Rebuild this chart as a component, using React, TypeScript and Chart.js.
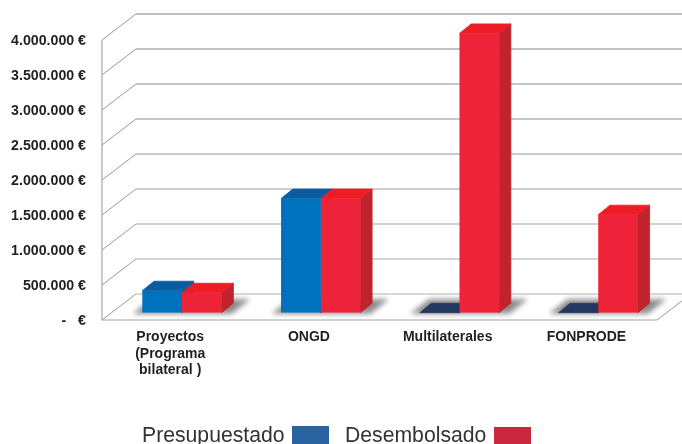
import React, { useEffect, useRef } from "react";
import { Chart, registerables } from "chart.js";

Chart.register(...registerables);

const categories = [["Proyectos", "(Programa", "bilateral )"], "ONGD", "Multilaterales", "FONPRODE"];
const presupuestado = [314000, 1630000, 0, 0];
const desembolsado = [285000, 1630000, 3990000, 1400000];
const yMax = 4000000;
const yStep = 500000;
const seriesNames = ["Presupuestado", "Desembolsado"];

const WALL_DX = 34, WALL_DY = -26;
const BAR_DX = 10.6, BAR_DY = -7.3;
const EXT_DX = 11.7, EXT_DY = -9.5;

const faces = [
  { front: "#0071bc", top: "#0b5c9e", side: "#0b5c9e", zero: "#24375f" },
  { front: "#ee2239", top: "#ee1c25", side: "#c1232c", zero: "#24375f" },
];

function formatTick(v: number) {
  if (v === 0) return "-   €";
  return String(v).replace(/\B(?=(\d{3})+(?!\d))/g, ".") + " €";
}

function poly(ctx: CanvasRenderingContext2D, pts: number[][], color: string) {
  ctx.beginPath();
  pts.forEach((p, i) => (i ? ctx.lineTo(p[0], p[1]) : ctx.moveTo(p[0], p[1])));
  ctx.closePath();
  ctx.fillStyle = color;
  ctx.strokeStyle = color;
  ctx.lineWidth = 0.8;
  ctx.lineJoin = "round";
  ctx.fill();
  ctx.stroke();
}

const scene = {
  id: "scene3d",
  beforeDatasetsDraw(chart: any) {
    const { ctx, scales } = chart;
    const y = scales.y, x = scales.x;
    const left = x.left, right = x.right;
    const canvasW = chart.width;
    ctx.save();
    // wall and floor
    y.ticks.forEach((t: any) => {
      const py = y.getPixelForValue(t.value);
      const share = 1 - t.value / yMax;
      const g = Math.round(128 + 48 * share);
      ctx.strokeStyle = `rgb(${g},${g},${g})`;
      ctx.lineWidth = 1.2;
      ctx.beginPath();
      ctx.moveTo(left + WALL_DX, py + WALL_DY);
      ctx.lineTo(canvasW, py + WALL_DY);
      ctx.stroke();
      ctx.strokeStyle = "#8c8c8c";
      ctx.lineWidth = 0.9;
      ctx.beginPath();
      ctx.moveTo(left, py);
      ctx.lineTo(left + WALL_DX, py + WALL_DY);
      ctx.stroke();
    });
    const y0 = y.getPixelForValue(0);
    ctx.strokeStyle = "#a6a6a6";
    ctx.lineWidth = 1.2;
    ctx.beginPath();
    ctx.moveTo(left, y.getPixelForValue(yMax));
    ctx.lineTo(left, y0);
    ctx.lineTo(right, y0);
    ctx.stroke();
    ctx.strokeStyle = "#8c8c8c";
    ctx.lineWidth = 0.9;
    ctx.beginPath();
    ctx.moveTo(right, y0);
    ctx.lineTo(right + WALL_DX, y0 + WALL_DY);
    ctx.stroke();

    ctx.translate(BAR_DX, BAR_DY);

    // floor shadows
    const m0 = chart.getDatasetMeta(0).data;
    const m1 = chart.getDatasetMeta(1).data;
    m0.forEach((el: any, i: number) => {
      const a = el.x - el.width / 2;
      const b = m1[i].x + m1[i].width / 2;
      ctx.save();
      ctx.filter = "blur(2.5px)";
      poly(ctx, [[a - 8, y0 + 0.5], [a + 9, y0 - 13], [b + 27, y0 - 13], [b + 10, y0 + 0.5]], "#8a8a8a");
      ctx.restore();
    });

    // extruded faces
    [m0, m1].forEach((els: any[], d: number) => {
      const f = faces[d];
      els.forEach((el: any) => {
        const a = el.x - el.width / 2;
        const b = el.x + el.width / 2;
        const t = el.y;
        const isZero = Math.abs(el.base - el.y) < 0.5;
        if (!isZero) {
          poly(ctx, [[b, t], [b + EXT_DX, t + EXT_DY], [b + EXT_DX, y0 + EXT_DY], [b, y0]], f.side);
        }
        poly(ctx, [[a, t], [a + EXT_DX, t + EXT_DY], [b + EXT_DX, t + EXT_DY], [b, t]], isZero ? f.zero : f.top);
      });
    });
  },
  afterDatasetsDraw(chart: any) {
    chart.ctx.restore();
  },
  afterDraw(chart: any) {
    const { ctx } = chart;
    const items = [
      { textX: 142, boxX: 292, boxY: 426, color: "#2a64a0" },
      { textX: 345, boxX: 494, boxY: 427, color: "#c9283e" },
    ];
    ctx.save();
    ctx.font = "21.2px 'Liberation Sans'";
    ctx.textBaseline = "alphabetic";
    ctx.textAlign = "left";
    items.forEach((it, i) => {
      ctx.fillStyle = "#333333";
      ctx.fillText(seriesNames[i], it.textX, 442);
      ctx.fillStyle = it.color;
      ctx.fillRect(it.boxX, it.boxY, 37, 18);
    });
    ctx.restore();
  },
};

export default function App() {
  const ref = useRef<HTMLCanvasElement>(null);
  useEffect(() => {
    document.body.style.margin = "0";
    document.body.style.overflow = "hidden";
    const chart = new Chart(ref.current!, {
      type: "bar",
      data: {
        labels: categories as any,
        datasets: [
          { label: seriesNames[0], data: presupuestado, backgroundColor: faces[0].front, borderWidth: 0 },
          { label: seriesNames[1], data: desembolsado, backgroundColor: faces[1].front, borderWidth: 0 },
        ],
      },
      options: {
        responsive: false,
        animation: false,
        layout: { padding: { left: 0, right: 25, top: 40, bottom: 0 } },
        plugins: { legend: { display: false }, tooltip: { enabled: false }, title: { display: false } },
        datasets: { bar: { categoryPercentage: 0.572, barPercentage: 1 } },
        scales: {
          x: {
            grid: { display: false, drawTicks: false },
            border: { display: false },
            afterFit: (s: any) => { s.height = 124; },
            ticks: {
              autoSkip: false,
              maxRotation: 0,
              minRotation: 0,
              padding: 9,
              labelOffset: -1.2,
              color: "#231f20",
              font: { family: "'Liberation Sans'", size: 14, weight: "bold", lineHeight: 1.18 },
            },
          },
          y: {
            min: 0,
            max: yMax,
            grid: { display: false, drawTicks: false },
            border: { display: false },
            afterFit: (s: any) => { s.width = 102; },
            ticks: {
              stepSize: yStep,
              padding: 16,
              labelOffset: 1,
              color: "#231f20",
              font: { family: "'Liberation Sans'", size: 14.2, weight: "bold" },
              callback: (v: any) => formatTick(Number(v)),
            },
          },
        },
      },
      plugins: [scene as any],
    });
    return () => chart.destroy();
  }, []);
  return (
    <div style={{ position: "absolute", left: 0, top: 0, width: 682, height: 444 }}>
      <canvas ref={ref} width={682} height={444} style={{ display: "block" }} />
    </div>
  );
}
